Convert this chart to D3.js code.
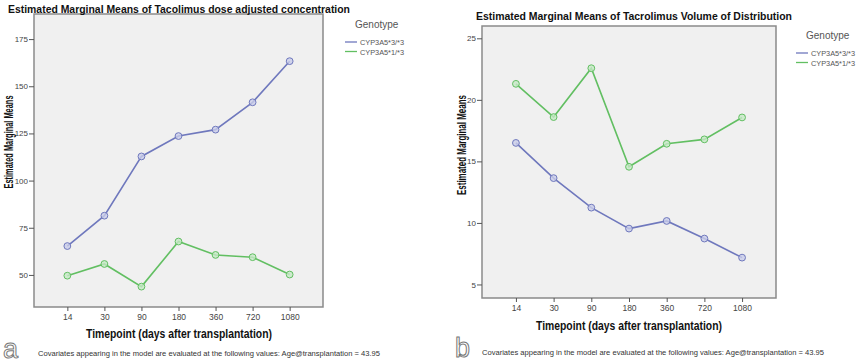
<!DOCTYPE html>
<html>
<head>
<meta charset="utf-8">
<script src="https://cdn.jsdelivr.net/npm/d3@7"></script>
<style>
  body { margin: 0; background: #fff; }
  svg { display: block; font-family: "Liberation Sans", Arial, sans-serif; }
</style>
</head>
<body>
<div id="chart"></div>
<script>
// Data
const timepoints = ['14', '30', '90', '180', '360', '720', '1080'];
const genotypes = ['CYP3A5*3/*3', 'CYP3A5*1/*3'];

const concStar33 = [65.3, 81.4, 112.8, 123.6, 127.0, 141.5, 163.3];
const concStar13 = [49.6, 55.8, 43.8, 67.7, 60.6, 59.4, 50.2];
const concTicks = [50, 75, 100, 125, 150, 175];

const vdStar33 = [16.5, 13.64, 11.24, 9.54, 10.16, 8.73, 7.18];
const vdStar13 = [21.3, 18.6, 22.57, 14.56, 16.43, 16.79, 18.57];
const vdTicks = [5, 10, 15, 20, 25];

const colors = ['#6f78bd', '#62bf62'];
const fills = ['#c9cdea', '#c6e9c6'];

const svg = d3.select('#chart').append('svg')
    .attr('width', 859)
    .attr('height', 364);

function drawPanel(p) {
    const g = svg.append('g');

    const x = d3.scalePoint()
        .domain(timepoints)
        .range([p.left, p.right])
        .padding(0.9);

    const y = d3.scaleLinear()
        .domain(p.domain)
        .range([p.bottom, p.top]);

    // plot background + frame
    g.append('rect')
        .attr('x', p.left)
        .attr('y', p.top)
        .attr('width', p.right - p.left)
        .attr('height', p.bottom - p.top)
        .attr('fill', '#f0f0f0')
        .attr('stroke', '#8a8a8a')
        .attr('stroke-width', 1.5);

    // y axis
    const yAxis = g.append('g')
        .attr('transform', `translate(${p.left},0)`)
        .call(d3.axisLeft(y).tickValues(p.ticks).tickSize(5).tickPadding(1));
    yAxis.select('.domain').remove();
    yAxis.selectAll('line').attr('stroke', '#555');
    yAxis.selectAll('text').attr('fill', '#444').style('font-size', '8px');

    // x axis
    const xAxis = g.append('g')
        .attr('transform', `translate(0,${p.bottom})`)
        .call(d3.axisBottom(x).tickSize(4).tickPadding(3));
    xAxis.select('.domain').remove();
    xAxis.selectAll('line').attr('stroke', '#555');
    xAxis.selectAll('text').attr('fill', '#444').style('font-size', '8.5px');

    // series
    const line = d3.line()
        .x((d, i) => x(timepoints[i]))
        .y(d => y(d));

    p.series.forEach((vals, k) => {
        g.append('path')
            .datum(vals)
            .attr('d', line)
            .attr('fill', 'none')
            .attr('stroke', colors[k])
            .attr('stroke-width', 1.6);

        g.selectAll(null)
            .data(vals)
            .enter()
            .append('circle')
            .attr('cx', (d, i) => x(timepoints[i]))
            .attr('cy', d => y(d))
            .attr('r', 3.4)
            .attr('fill', fills[k])
            .attr('fill-opacity', 0.8)
            .attr('stroke', colors[k])
            .attr('stroke-width', 1);
    });

    // title
    g.append('text')
        .attr('x', p.titleX)
        .attr('y', p.titleY)
        .attr('textLength', p.titleW)
        .attr('lengthAdjust', 'spacingAndGlyphs')
        .style('font-size', '11px')
        .style('font-weight', 'bold')
        .attr('fill', '#111')
        .text(p.title);

    // y axis label
    g.append('text')
        .attr('transform', `translate(${p.yLabelX},${p.yLabelY}) rotate(-90)`)
        .attr('text-anchor', 'middle')
        .attr('textLength', p.yLabelW)
        .attr('lengthAdjust', 'spacingAndGlyphs')
        .style('font-size', '12px')
        .style('font-weight', 'bold')
        .attr('fill', '#111')
        .text('Estimated Marginal Means');

    // x axis label
    g.append('text')
        .attr('x', p.xLabelX)
        .attr('y', p.xLabelY)
        .attr('textLength', 186)
        .attr('lengthAdjust', 'spacingAndGlyphs')
        .style('font-size', '12.5px')
        .style('font-weight', 'bold')
        .attr('fill', '#111')
        .text('Timepoint (days after transplantation)');

    // covariates note
    g.append('text')
        .attr('x', p.noteX)
        .attr('y', p.noteY)
        .attr('textLength', 342)
        .attr('lengthAdjust', 'spacingAndGlyphs')
        .style('font-size', '7px')
        .attr('fill', '#333')
        .text('Covariates appearing in the model are evaluated at the following values: Age@transplantation = 43.95');

    // panel letter
    g.append('text')
        .attr('x', p.letterX)
        .attr('y', p.letterY)
        .style('font-size', '27px')
        .attr('fill', '#fff')
        .attr('stroke', '#777')
        .attr('stroke-width', 1)
        .text(p.letter);

    // legend
    const lg = g.append('g').attr('transform', `translate(${p.legendX},${p.legendY})`);
    lg.append('text')
        .attr('x', 10)
        .attr('y', 0)
        .style('font-size', '10px')
        .attr('fill', '#555')
        .text('Genotype');
    genotypes.forEach((name, k) => {
        const row = lg.append('g').attr('transform', `translate(0,${14 + k * 9.5})`);
        row.append('line')
            .attr('x1', 0).attr('x2', 12)
            .attr('y1', 0).attr('y2', 0)
            .attr('stroke', colors[k])
            .attr('stroke-width', 1.3);
        row.append('text')
            .attr('x', 15)
            .attr('y', 3)
            .attr('textLength', 44)
            .attr('lengthAdjust', 'spacingAndGlyphs')
            .style('font-size', '7.5px')
            .attr('fill', '#555')
            .text(name);
    });
}

drawPanel({
    left: 34, right: 323, top: 14, bottom: 307,
    domain: [33, 188.3], ticks: concTicks,
    series: [concStar33, concStar13],
    title: 'Estimated Marginal Means of Tacolimus dose adjusted concentration',
    titleX: 8, titleY: 13, titleW: 342,
    yLabelX: 13, yLabelY: 142, yLabelW: 93,
    xLabelX: 86, xLabelY: 338,
    noteX: 38, noteY: 356,
    letter: 'a', letterX: 3, letterY: 358,
    legendX: 345, legendY: 28
});

drawPanel({
    left: 482, right: 776, top: 26, bottom: 298,
    domain: [3.9, 26.0], ticks: vdTicks,
    series: [vdStar33, vdStar13],
    title: 'Estimated Marginal Means of Tacrolimus Volume of Distribution',
    titleX: 476, titleY: 19.5, titleW: 316,
    yLabelX: 466, yLabelY: 145, yLabelW: 100,
    xLabelX: 536, xLabelY: 330,
    noteX: 482, noteY: 355,
    letter: 'b', letterX: 455, letterY: 357,
    legendX: 796, legendY: 39
});
</script>
</body>
</html>
